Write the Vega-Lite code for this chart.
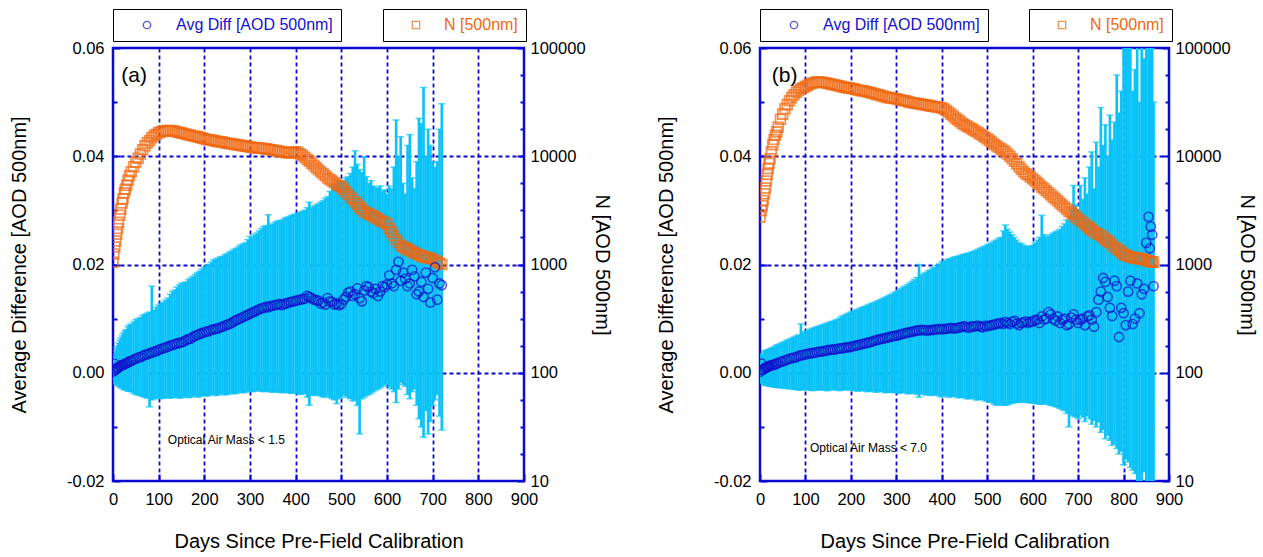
{
  "$schema": "https://vega.github.io/schema/vega-lite/v6.json",
  "background": "white",
  "padding": {"left": 8, "top": 7, "right": 5, "bottom": 5},
  "spacing": 42,
  "config": {
    "font": "Liberation Sans",
    "view": {"stroke": "#0a0ad2", "strokeWidth": 2.5},
    "axis": {
      "labelFontSize": 16.5, "titleFontSize": 20, "titleFontWeight": "normal",
      "labelColor": "black", "titleColor": "black", "domain": false,
      "tickColor": "#0a0ad2", "tickWidth": 2, "gridColor": "#0a0ad2",
      "gridDash": [4, 3], "gridWidth": 1.8, "labelOverlap": false, "labelFlush": false
    },
    "legend": {"labelFontSize": 16, "strokeColor": "black", "padding": 8, "fillColor": "white", "labelLimit": 400}
  },
  "resolve": {
    "scale": {"stroke": "independent", "shape": "independent"},
    "legend": {"stroke": "independent", "shape": "independent"}
  },
  "datasets": {
    "a": [
      {"d":0,"m":0.0002,"lo":-0.0015,"hi":0.0020,"n":1050},
      {"d":2,"m":0.0017,"lo":-0.0010,"hi":0.0030,"n":1250},
      {"d":4,"m":0.0005,"lo":-0.0018,"hi":0.0035,"n":1450},
      {"d":6,"m":0.0006,"lo":-0.0019,"hi":0.0040,"n":1650},
      {"d":8,"m":0.0008,"lo":-0.0021,"hi":0.0046,"n":1900},
      {"d":10,"m":0.0009,"lo":-0.0022,"hi":0.0050,"n":2150},
      {"d":12,"m":0.0010,"lo":-0.0024,"hi":0.0055,"n":2450},
      {"d":15,"m":0.0012,"lo":-0.0026,"hi":0.0060,"n":2850},
      {"d":17,"m":0.0013,"lo":-0.0027,"hi":0.0064,"n":3250},
      {"d":20,"m":0.0014,"lo":-0.0028,"hi":0.0068,"n":3700},
      {"d":22,"m":0.0015,"lo":-0.0030,"hi":0.0072,"n":4050},
      {"d":25,"m":0.0016,"lo":-0.0031,"hi":0.0075,"n":4600},
      {"d":27,"m":0.0017,"lo":-0.0031,"hi":0.0078,"n":4950},
      {"d":30,"m":0.0018,"lo":-0.0032,"hi":0.0080,"n":5400},
      {"d":33,"m":0.0019,"lo":-0.0034,"hi":0.0085,"n":6000},
      {"d":36,"m":0.0021,"lo":-0.0034,"hi":0.0088,"n":6600},
      {"d":40,"m":0.0022,"lo":-0.0035,"hi":0.0090,"n":7200},
      {"d":45,"m":0.0024,"lo":-0.0038,"hi":0.0094,"n":8000},
      {"d":50,"m":0.0026,"lo":-0.0040,"hi":0.0098,"n":8800},
      {"d":55,"m":0.0028,"lo":-0.0041,"hi":0.0100,"n":9600},
      {"d":60,"m":0.0029,"lo":-0.0042,"hi":0.0102,"n":10500},
      {"d":65,"m":0.0031,"lo":-0.0044,"hi":0.0106,"n":11500},
      {"d":70,"m":0.0033,"lo":-0.0045,"hi":0.0108,"n":12500},
      {"d":75,"m":0.0034,"lo":-0.0047,"hi":0.0110,"n":13300},
      {"d":80,"m":0.0036,"lo":-0.0063,"hi":0.0112,"n":14000},
      {"d":85,"m":0.0037,"lo":-0.0050,"hi":0.0160,"n":14800},
      {"d":90,"m":0.0039,"lo":-0.0048,"hi":0.0116,"n":15500},
      {"d":95,"m":0.0040,"lo":-0.0047,"hi":0.0121,"n":16000},
      {"d":100,"m":0.0042,"lo":-0.0046,"hi":0.0125,"n":16500},
      {"d":105,"m":0.0044,"lo":-0.0048,"hi":0.0128,"n":16800},
      {"d":110,"m":0.0045,"lo":-0.0047,"hi":0.0130,"n":17000},
      {"d":115,"m":0.0047,"lo":-0.0046,"hi":0.0134,"n":17200},
      {"d":120,"m":0.0048,"lo":-0.0045,"hi":0.0138,"n":17300},
      {"d":125,"m":0.0050,"lo":-0.0047,"hi":0.0145,"n":17300},
      {"d":130,"m":0.0051,"lo":-0.0046,"hi":0.0150,"n":17200},
      {"d":135,"m":0.0053,"lo":-0.0045,"hi":0.0153,"n":17000},
      {"d":140,"m":0.0054,"lo":-0.0044,"hi":0.0158,"n":16800},
      {"d":145,"m":0.0055,"lo":-0.0047,"hi":0.0162,"n":16600},
      {"d":150,"m":0.0056,"lo":-0.0046,"hi":0.0165,"n":16400},
      {"d":155,"m":0.0058,"lo":-0.0044,"hi":0.0166,"n":16200},
      {"d":160,"m":0.0060,"lo":-0.0043,"hi":0.0168,"n":16000},
      {"d":165,"m":0.0062,"lo":-0.0046,"hi":0.0172,"n":15800},
      {"d":170,"m":0.0063,"lo":-0.0045,"hi":0.0175,"n":15600},
      {"d":175,"m":0.0066,"lo":-0.0043,"hi":0.0178,"n":15400},
      {"d":180,"m":0.0068,"lo":-0.0042,"hi":0.0182,"n":15300},
      {"d":185,"m":0.0070,"lo":-0.0045,"hi":0.0185,"n":15100},
      {"d":190,"m":0.0072,"lo":-0.0044,"hi":0.0188,"n":15000},
      {"d":195,"m":0.0073,"lo":-0.0042,"hi":0.0192,"n":14700},
      {"d":200,"m":0.0075,"lo":-0.0040,"hi":0.0195,"n":14500},
      {"d":205,"m":0.0076,"lo":-0.0043,"hi":0.0198,"n":14300},
      {"d":210,"m":0.0077,"lo":-0.0042,"hi":0.0200,"n":14200},
      {"d":215,"m":0.0079,"lo":-0.0040,"hi":0.0204,"n":14100},
      {"d":220,"m":0.0080,"lo":-0.0039,"hi":0.0208,"n":14000},
      {"d":225,"m":0.0081,"lo":-0.0042,"hi":0.0210,"n":13800},
      {"d":230,"m":0.0082,"lo":-0.0041,"hi":0.0212,"n":13700},
      {"d":235,"m":0.0084,"lo":-0.0039,"hi":0.0214,"n":13600},
      {"d":240,"m":0.0085,"lo":-0.0038,"hi":0.0215,"n":13500},
      {"d":245,"m":0.0087,"lo":-0.0041,"hi":0.0218,"n":13300},
      {"d":250,"m":0.0089,"lo":-0.0040,"hi":0.0220,"n":13200},
      {"d":255,"m":0.0090,"lo":-0.0038,"hi":0.0223,"n":13100},
      {"d":260,"m":0.0092,"lo":-0.0037,"hi":0.0225,"n":13000},
      {"d":265,"m":0.0095,"lo":-0.0039,"hi":0.0228,"n":12900},
      {"d":270,"m":0.0097,"lo":-0.0038,"hi":0.0230,"n":12800},
      {"d":275,"m":0.0099,"lo":-0.0036,"hi":0.0233,"n":12700},
      {"d":280,"m":0.0101,"lo":-0.0035,"hi":0.0236,"n":12600},
      {"d":285,"m":0.0103,"lo":-0.0037,"hi":0.0238,"n":12500},
      {"d":290,"m":0.0105,"lo":-0.0036,"hi":0.0240,"n":12400},
      {"d":295,"m":0.0107,"lo":-0.0034,"hi":0.0246,"n":12300},
      {"d":300,"m":0.0109,"lo":-0.0033,"hi":0.0252,"n":12200},
      {"d":305,"m":0.0111,"lo":-0.0035,"hi":0.0250,"n":12100},
      {"d":310,"m":0.0113,"lo":-0.0034,"hi":0.0255,"n":12000},
      {"d":315,"m":0.0115,"lo":-0.0033,"hi":0.0258,"n":11950},
      {"d":320,"m":0.0117,"lo":-0.0032,"hi":0.0262,"n":11900},
      {"d":325,"m":0.0119,"lo":-0.0034,"hi":0.0266,"n":11850},
      {"d":330,"m":0.0120,"lo":-0.0035,"hi":0.0270,"n":11800},
      {"d":335,"m":0.0122,"lo":-0.0034,"hi":0.0272,"n":11700},
      {"d":340,"m":0.0121,"lo":-0.0033,"hi":0.0292,"n":11600},
      {"d":345,"m":0.0123,"lo":-0.0035,"hi":0.0273,"n":11500},
      {"d":350,"m":0.0124,"lo":-0.0036,"hi":0.0275,"n":11400},
      {"d":355,"m":0.0125,"lo":-0.0035,"hi":0.0278,"n":11300},
      {"d":360,"m":0.0126,"lo":-0.0034,"hi":0.0280,"n":11200},
      {"d":365,"m":0.0127,"lo":-0.0036,"hi":0.0281,"n":11100},
      {"d":370,"m":0.0125,"lo":-0.0037,"hi":0.0282,"n":11000},
      {"d":375,"m":0.0127,"lo":-0.0036,"hi":0.0285,"n":10900},
      {"d":380,"m":0.0128,"lo":-0.0035,"hi":0.0287,"n":10800},
      {"d":385,"m":0.0130,"lo":-0.0037,"hi":0.0288,"n":10750},
      {"d":390,"m":0.0131,"lo":-0.0038,"hi":0.0290,"n":10700},
      {"d":395,"m":0.0132,"lo":-0.0037,"hi":0.0292,"n":10900},
      {"d":400,"m":0.0133,"lo":-0.0036,"hi":0.0293,"n":11000},
      {"d":405,"m":0.0134,"lo":-0.0039,"hi":0.0295,"n":10800},
      {"d":410,"m":0.0135,"lo":-0.0040,"hi":0.0296,"n":10500},
      {"d":415,"m":0.0136,"lo":-0.0039,"hi":0.0298,"n":10200},
      {"d":420,"m":0.0137,"lo":-0.0038,"hi":0.0300,"n":9800},
      {"d":425,"m":0.0142,"lo":-0.0045,"hi":0.0305,"n":9400},
      {"d":430,"m":0.0140,"lo":-0.0060,"hi":0.0315,"n":9000},
      {"d":435,"m":0.0138,"lo":-0.0041,"hi":0.0305,"n":8600},
      {"d":440,"m":0.0135,"lo":-0.0042,"hi":0.0308,"n":8200},
      {"d":445,"m":0.0134,"lo":-0.0041,"hi":0.0310,"n":7850},
      {"d":450,"m":0.0133,"lo":-0.0040,"hi":0.0312,"n":7500},
      {"d":455,"m":0.0128,"lo":-0.0043,"hi":0.0315,"n":7200},
      {"d":460,"m":0.0130,"lo":-0.0045,"hi":0.0318,"n":6900},
      {"d":465,"m":0.0126,"lo":-0.0044,"hi":0.0322,"n":6600},
      {"d":470,"m":0.0138,"lo":-0.0042,"hi":0.0325,"n":6300},
      {"d":475,"m":0.0132,"lo":-0.0046,"hi":0.0335,"n":6100},
      {"d":480,"m":0.0131,"lo":-0.0048,"hi":0.0345,"n":5900},
      {"d":485,"m":0.0126,"lo":-0.0050,"hi":0.0348,"n":5700},
      {"d":490,"m":0.0128,"lo":-0.0057,"hi":0.0350,"n":5500},
      {"d":495,"m":0.0125,"lo":-0.0048,"hi":0.0352,"n":5350},
      {"d":500,"m":0.0127,"lo":-0.0045,"hi":0.0355,"n":5200},
      {"d":505,"m":0.0135,"lo":-0.0040,"hi":0.0352,"n":4950},
      {"d":510,"m":0.0140,"lo":-0.0043,"hi":0.0360,"n":4700},
      {"d":515,"m":0.0148,"lo":-0.0046,"hi":0.0362,"n":4450},
      {"d":520,"m":0.0150,"lo":-0.0048,"hi":0.0368,"n":4200},
      {"d":525,"m":0.0142,"lo":-0.0052,"hi":0.0380,"n":4000},
      {"d":530,"m":0.0145,"lo":-0.0050,"hi":0.0410,"n":3800},
      {"d":535,"m":0.0156,"lo":-0.0060,"hi":0.0385,"n":3600},
      {"d":540,"m":0.0138,"lo":-0.0113,"hi":0.0375,"n":3400},
      {"d":545,"m":0.0132,"lo":-0.0048,"hi":0.0370,"n":3250},
      {"d":550,"m":0.0152,"lo":-0.0045,"hi":0.0399,"n":3100},
      {"d":555,"m":0.0160,"lo":-0.0042,"hi":0.0362,"n":3000},
      {"d":560,"m":0.0158,"lo":-0.0040,"hi":0.0350,"n":2950},
      {"d":565,"m":0.0150,"lo":-0.0038,"hi":0.0355,"n":2850},
      {"d":570,"m":0.0147,"lo":-0.0035,"hi":0.0345,"n":2800},
      {"d":575,"m":0.0155,"lo":-0.0032,"hi":0.0342,"n":2700},
      {"d":580,"m":0.0142,"lo":-0.0030,"hi":0.0340,"n":2650},
      {"d":585,"m":0.0150,"lo":-0.0028,"hi":0.0345,"n":2550},
      {"d":590,"m":0.0160,"lo":-0.0025,"hi":0.0335,"n":2500},
      {"d":595,"m":0.0158,"lo":-0.0022,"hi":0.0338,"n":2450},
      {"d":600,"m":0.0163,"lo":-0.0020,"hi":0.0330,"n":2350},
      {"d":605,"m":0.0180,"lo":-0.0026,"hi":0.0345,"n":2150},
      {"d":610,"m":0.0165,"lo":-0.0030,"hi":0.0340,"n":2000},
      {"d":615,"m":0.0160,"lo":-0.0035,"hi":0.0380,"n":1850},
      {"d":620,"m":0.0190,"lo":-0.0055,"hi":0.0467,"n":1700},
      {"d":625,"m":0.0205,"lo":-0.0030,"hi":0.0400,"n":1600},
      {"d":630,"m":0.0170,"lo":-0.0018,"hi":0.0436,"n":1500},
      {"d":635,"m":0.0185,"lo":-0.0022,"hi":0.0350,"n":1450},
      {"d":640,"m":0.0174,"lo":-0.0025,"hi":0.0330,"n":1420},
      {"d":645,"m":0.0160,"lo":-0.0040,"hi":0.0420,"n":1380},
      {"d":650,"m":0.0165,"lo":-0.0048,"hi":0.0440,"n":1350},
      {"d":655,"m":0.0190,"lo":-0.0035,"hi":0.0360,"n":1320},
      {"d":660,"m":0.0178,"lo":-0.0030,"hi":0.0340,"n":1280},
      {"d":665,"m":0.0145,"lo":-0.0060,"hi":0.0390,"n":1250},
      {"d":670,"m":0.0150,"lo":-0.0085,"hi":0.0470,"n":1230},
      {"d":675,"m":0.0168,"lo":-0.0100,"hi":0.0460,"n":1200},
      {"d":680,"m":0.0140,"lo":-0.0119,"hi":0.0527,"n":1180},
      {"d":685,"m":0.0185,"lo":-0.0070,"hi":0.0400,"n":1170},
      {"d":690,"m":0.0155,"lo":-0.0113,"hi":0.0450,"n":1150},
      {"d":695,"m":0.0130,"lo":-0.0090,"hi":0.0420,"n":1140},
      {"d":700,"m":0.0175,"lo":-0.0060,"hi":0.0390,"n":1120},
      {"d":705,"m":0.0195,"lo":-0.0050,"hi":0.0380,"n":1090},
      {"d":710,"m":0.0135,"lo":-0.0040,"hi":0.0390,"n":1060},
      {"d":715,"m":0.0165,"lo":-0.0080,"hi":0.0450,"n":1030},
      {"d":720,"m":0.0162,"lo":-0.0106,"hi":0.0497,"n":1000}
    ],
    "b": [
      {"d":0,"m":0.0002,"lo":-0.0017,"hi":0.0020,"n":2750},
      {"d":3,"m":0.0017,"lo":-0.0010,"hi":0.0035,"n":3150},
      {"d":5,"m":0.0005,"lo":-0.0019,"hi":0.0028,"n":3500},
      {"d":7,"m":0.0006,"lo":-0.0020,"hi":0.0032,"n":3900},
      {"d":10,"m":0.0008,"lo":-0.0022,"hi":0.0038,"n":4500},
      {"d":12,"m":0.0009,"lo":-0.0022,"hi":0.0040,"n":5100},
      {"d":14,"m":0.0010,"lo":-0.0023,"hi":0.0041,"n":5900},
      {"d":16,"m":0.0011,"lo":-0.0023,"hi":0.0041,"n":6800},
      {"d":18,"m":0.0011,"lo":-0.0024,"hi":0.0042,"n":7700},
      {"d":20,"m":0.0012,"lo":-0.0024,"hi":0.0042,"n":8600},
      {"d":22,"m":0.0013,"lo":-0.0025,"hi":0.0044,"n":9500},
      {"d":25,"m":0.0014,"lo":-0.0025,"hi":0.0045,"n":11000},
      {"d":28,"m":0.0014,"lo":-0.0026,"hi":0.0046,"n":12800},
      {"d":31,"m":0.0015,"lo":-0.0026,"hi":0.0047,"n":14300},
      {"d":34,"m":0.0016,"lo":-0.0027,"hi":0.0049,"n":15600},
      {"d":37,"m":0.0017,"lo":-0.0027,"hi":0.0051,"n":16800},
      {"d":40,"m":0.0018,"lo":-0.0027,"hi":0.0052,"n":18500},
      {"d":45,"m":0.0020,"lo":-0.0028,"hi":0.0054,"n":22000},
      {"d":50,"m":0.0021,"lo":-0.0028,"hi":0.0056,"n":24500},
      {"d":55,"m":0.0023,"lo":-0.0029,"hi":0.0058,"n":27500},
      {"d":60,"m":0.0024,"lo":-0.0028,"hi":0.0060,"n":30000},
      {"d":65,"m":0.0026,"lo":-0.0030,"hi":0.0062,"n":32500},
      {"d":70,"m":0.0027,"lo":-0.0029,"hi":0.0064,"n":35000},
      {"d":75,"m":0.0028,"lo":-0.0031,"hi":0.0066,"n":37000},
      {"d":80,"m":0.0029,"lo":-0.0030,"hi":0.0068,"n":39000},
      {"d":85,"m":0.0031,"lo":-0.0032,"hi":0.0070,"n":40500},
      {"d":90,"m":0.0032,"lo":-0.0032,"hi":0.0090,"n":42000},
      {"d":95,"m":0.0033,"lo":-0.0031,"hi":0.0074,"n":43000},
      {"d":100,"m":0.0034,"lo":-0.0030,"hi":0.0076,"n":44000},
      {"d":105,"m":0.0035,"lo":-0.0032,"hi":0.0078,"n":45300},
      {"d":110,"m":0.0036,"lo":-0.0031,"hi":0.0080,"n":46500},
      {"d":115,"m":0.0036,"lo":-0.0033,"hi":0.0082,"n":47300},
      {"d":120,"m":0.0037,"lo":-0.0030,"hi":0.0083,"n":48000},
      {"d":125,"m":0.0038,"lo":-0.0032,"hi":0.0085,"n":48500},
      {"d":130,"m":0.0039,"lo":-0.0032,"hi":0.0086,"n":48500},
      {"d":135,"m":0.0039,"lo":-0.0031,"hi":0.0088,"n":48200},
      {"d":140,"m":0.0040,"lo":-0.0031,"hi":0.0089,"n":48000},
      {"d":145,"m":0.0041,"lo":-0.0033,"hi":0.0091,"n":47500},
      {"d":150,"m":0.0042,"lo":-0.0033,"hi":0.0092,"n":47000},
      {"d":155,"m":0.0042,"lo":-0.0031,"hi":0.0094,"n":46500},
      {"d":160,"m":0.0043,"lo":-0.0030,"hi":0.0095,"n":46000},
      {"d":165,"m":0.0043,"lo":-0.0032,"hi":0.0097,"n":45500},
      {"d":170,"m":0.0044,"lo":-0.0031,"hi":0.0098,"n":45000},
      {"d":175,"m":0.0045,"lo":-0.0033,"hi":0.0101,"n":44500},
      {"d":180,"m":0.0045,"lo":-0.0032,"hi":0.0104,"n":44000},
      {"d":185,"m":0.0046,"lo":-0.0031,"hi":0.0106,"n":43500},
      {"d":190,"m":0.0047,"lo":-0.0030,"hi":0.0108,"n":43000},
      {"d":195,"m":0.0047,"lo":-0.0032,"hi":0.0110,"n":42800},
      {"d":200,"m":0.0048,"lo":-0.0031,"hi":0.0112,"n":42500},
      {"d":205,"m":0.0049,"lo":-0.0033,"hi":0.0114,"n":42000},
      {"d":210,"m":0.0050,"lo":-0.0032,"hi":0.0115,"n":41500},
      {"d":215,"m":0.0051,"lo":-0.0034,"hi":0.0117,"n":41000},
      {"d":220,"m":0.0052,"lo":-0.0033,"hi":0.0119,"n":40500},
      {"d":225,"m":0.0053,"lo":-0.0033,"hi":0.0121,"n":40200},
      {"d":230,"m":0.0054,"lo":-0.0032,"hi":0.0122,"n":40000},
      {"d":235,"m":0.0055,"lo":-0.0035,"hi":0.0124,"n":39500},
      {"d":240,"m":0.0056,"lo":-0.0034,"hi":0.0126,"n":39000},
      {"d":245,"m":0.0057,"lo":-0.0034,"hi":0.0128,"n":38500},
      {"d":250,"m":0.0059,"lo":-0.0033,"hi":0.0129,"n":38000},
      {"d":255,"m":0.0060,"lo":-0.0036,"hi":0.0131,"n":37500},
      {"d":260,"m":0.0061,"lo":-0.0035,"hi":0.0133,"n":37000},
      {"d":265,"m":0.0062,"lo":-0.0034,"hi":0.0135,"n":36500},
      {"d":270,"m":0.0063,"lo":-0.0034,"hi":0.0137,"n":36000},
      {"d":275,"m":0.0064,"lo":-0.0037,"hi":0.0139,"n":35500},
      {"d":280,"m":0.0065,"lo":-0.0036,"hi":0.0141,"n":35000},
      {"d":285,"m":0.0066,"lo":-0.0036,"hi":0.0143,"n":34700},
      {"d":290,"m":0.0067,"lo":-0.0035,"hi":0.0145,"n":34500},
      {"d":295,"m":0.0068,"lo":-0.0037,"hi":0.0148,"n":34200},
      {"d":300,"m":0.0068,"lo":-0.0036,"hi":0.0150,"n":34000},
      {"d":305,"m":0.0070,"lo":-0.0038,"hi":0.0152,"n":33500},
      {"d":310,"m":0.0071,"lo":-0.0037,"hi":0.0155,"n":33000},
      {"d":315,"m":0.0072,"lo":-0.0036,"hi":0.0158,"n":32700},
      {"d":320,"m":0.0073,"lo":-0.0036,"hi":0.0160,"n":32500},
      {"d":325,"m":0.0074,"lo":-0.0039,"hi":0.0163,"n":32000},
      {"d":330,"m":0.0075,"lo":-0.0038,"hi":0.0166,"n":31500},
      {"d":335,"m":0.0076,"lo":-0.0037,"hi":0.0169,"n":31200},
      {"d":340,"m":0.0077,"lo":-0.0037,"hi":0.0172,"n":31000},
      {"d":345,"m":0.0078,"lo":-0.0040,"hi":0.0176,"n":30700},
      {"d":350,"m":0.0078,"lo":-0.0045,"hi":0.0200,"n":30500},
      {"d":355,"m":0.0079,"lo":-0.0039,"hi":0.0180,"n":30200},
      {"d":360,"m":0.0079,"lo":-0.0039,"hi":0.0183,"n":30000},
      {"d":365,"m":0.0078,"lo":-0.0041,"hi":0.0185,"n":29700},
      {"d":370,"m":0.0078,"lo":-0.0040,"hi":0.0188,"n":29500},
      {"d":375,"m":0.0079,"lo":-0.0042,"hi":0.0190,"n":29200},
      {"d":380,"m":0.0079,"lo":-0.0041,"hi":0.0193,"n":29000},
      {"d":385,"m":0.0080,"lo":-0.0041,"hi":0.0195,"n":28700},
      {"d":390,"m":0.0080,"lo":-0.0040,"hi":0.0198,"n":28500},
      {"d":395,"m":0.0081,"lo":-0.0043,"hi":0.0201,"n":28200},
      {"d":400,"m":0.0080,"lo":-0.0045,"hi":0.0205,"n":28000},
      {"d":405,"m":0.0081,"lo":-0.0042,"hi":0.0206,"n":27300},
      {"d":410,"m":0.0081,"lo":-0.0042,"hi":0.0208,"n":26500},
      {"d":415,"m":0.0082,"lo":-0.0045,"hi":0.0210,"n":25500},
      {"d":420,"m":0.0083,"lo":-0.0044,"hi":0.0211,"n":24500},
      {"d":425,"m":0.0082,"lo":-0.0043,"hi":0.0213,"n":23500},
      {"d":430,"m":0.0082,"lo":-0.0043,"hi":0.0214,"n":22500},
      {"d":435,"m":0.0083,"lo":-0.0046,"hi":0.0215,"n":21700},
      {"d":440,"m":0.0084,"lo":-0.0046,"hi":0.0216,"n":21000},
      {"d":445,"m":0.0085,"lo":-0.0045,"hi":0.0218,"n":20200},
      {"d":450,"m":0.0086,"lo":-0.0045,"hi":0.0219,"n":19500},
      {"d":455,"m":0.0084,"lo":-0.0048,"hi":0.0220,"n":19000},
      {"d":460,"m":0.0083,"lo":-0.0048,"hi":0.0221,"n":18500},
      {"d":465,"m":0.0086,"lo":-0.0047,"hi":0.0223,"n":18000},
      {"d":470,"m":0.0085,"lo":-0.0047,"hi":0.0224,"n":17500},
      {"d":475,"m":0.0086,"lo":-0.0050,"hi":0.0226,"n":17000},
      {"d":480,"m":0.0087,"lo":-0.0050,"hi":0.0228,"n":16500},
      {"d":485,"m":0.0085,"lo":-0.0049,"hi":0.0230,"n":16000},
      {"d":490,"m":0.0084,"lo":-0.0049,"hi":0.0232,"n":15500},
      {"d":495,"m":0.0087,"lo":-0.0052,"hi":0.0234,"n":15000},
      {"d":500,"m":0.0086,"lo":-0.0052,"hi":0.0236,"n":14500},
      {"d":505,"m":0.0087,"lo":-0.0054,"hi":0.0238,"n":14000},
      {"d":510,"m":0.0088,"lo":-0.0055,"hi":0.0240,"n":13500},
      {"d":515,"m":0.0089,"lo":-0.0058,"hi":0.0243,"n":13000},
      {"d":520,"m":0.0090,"lo":-0.0060,"hi":0.0245,"n":12500},
      {"d":525,"m":0.0091,"lo":-0.0059,"hi":0.0248,"n":12100},
      {"d":530,"m":0.0092,"lo":-0.0058,"hi":0.0250,"n":11700},
      {"d":535,"m":0.0090,"lo":-0.0060,"hi":0.0262,"n":11300},
      {"d":540,"m":0.0094,"lo":-0.0060,"hi":0.0273,"n":11000},
      {"d":545,"m":0.0092,"lo":-0.0059,"hi":0.0265,"n":10500},
      {"d":550,"m":0.0090,"lo":-0.0057,"hi":0.0260,"n":10000},
      {"d":555,"m":0.0094,"lo":-0.0056,"hi":0.0255,"n":9500},
      {"d":560,"m":0.0096,"lo":-0.0055,"hi":0.0250,"n":9000},
      {"d":565,"m":0.0091,"lo":-0.0055,"hi":0.0245,"n":8500},
      {"d":570,"m":0.0088,"lo":-0.0054,"hi":0.0240,"n":8000},
      {"d":575,"m":0.0092,"lo":-0.0054,"hi":0.0238,"n":7600},
      {"d":580,"m":0.0093,"lo":-0.0053,"hi":0.0235,"n":7200},
      {"d":585,"m":0.0095,"lo":-0.0055,"hi":0.0233,"n":6900},
      {"d":590,"m":0.0092,"lo":-0.0054,"hi":0.0232,"n":6700},
      {"d":595,"m":0.0094,"lo":-0.0056,"hi":0.0234,"n":6450},
      {"d":600,"m":0.0095,"lo":-0.0055,"hi":0.0235,"n":6200},
      {"d":605,"m":0.0097,"lo":-0.0057,"hi":0.0240,"n":5950},
      {"d":610,"m":0.0098,"lo":-0.0056,"hi":0.0245,"n":5700},
      {"d":615,"m":0.0092,"lo":-0.0058,"hi":0.0250,"n":5450},
      {"d":620,"m":0.0104,"lo":-0.0058,"hi":0.0291,"n":5200},
      {"d":625,"m":0.0098,"lo":-0.0057,"hi":0.0255,"n":5000},
      {"d":630,"m":0.0100,"lo":-0.0057,"hi":0.0250,"n":4800},
      {"d":635,"m":0.0112,"lo":-0.0059,"hi":0.0252,"n":4600},
      {"d":640,"m":0.0108,"lo":-0.0060,"hi":0.0255,"n":4400},
      {"d":645,"m":0.0100,"lo":-0.0061,"hi":0.0258,"n":4200},
      {"d":650,"m":0.0096,"lo":-0.0062,"hi":0.0260,"n":4050},
      {"d":655,"m":0.0104,"lo":-0.0064,"hi":0.0262,"n":3880},
      {"d":660,"m":0.0092,"lo":-0.0066,"hi":0.0265,"n":3700},
      {"d":665,"m":0.0098,"lo":-0.0068,"hi":0.0270,"n":3550},
      {"d":670,"m":0.0100,"lo":-0.0070,"hi":0.0275,"n":3400},
      {"d":675,"m":0.0088,"lo":-0.0075,"hi":0.0282,"n":3250},
      {"d":680,"m":0.0090,"lo":-0.0100,"hi":0.0290,"n":3100},
      {"d":685,"m":0.0102,"lo":-0.0078,"hi":0.0300,"n":3000},
      {"d":690,"m":0.0108,"lo":-0.0080,"hi":0.0346,"n":2900},
      {"d":695,"m":0.0098,"lo":-0.0082,"hi":0.0310,"n":2780},
      {"d":700,"m":0.0092,"lo":-0.0085,"hi":0.0300,"n":2650},
      {"d":705,"m":0.0098,"lo":-0.0078,"hi":0.0346,"n":2550},
      {"d":710,"m":0.0100,"lo":-0.0082,"hi":0.0320,"n":2450},
      {"d":715,"m":0.0088,"lo":-0.0090,"hi":0.0360,"n":2350},
      {"d":720,"m":0.0104,"lo":-0.0080,"hi":0.0330,"n":2250},
      {"d":725,"m":0.0106,"lo":-0.0085,"hi":0.0380,"n":2180},
      {"d":730,"m":0.0098,"lo":-0.0095,"hi":0.0408,"n":2100},
      {"d":735,"m":0.0085,"lo":-0.0088,"hi":0.0340,"n":2020},
      {"d":740,"m":0.0112,"lo":-0.0100,"hi":0.0426,"n":1950},
      {"d":745,"m":0.0135,"lo":-0.0091,"hi":0.0380,"n":1900},
      {"d":750,"m":0.0150,"lo":-0.0110,"hi":0.0490,"n":1850},
      {"d":755,"m":0.0175,"lo":-0.0105,"hi":0.0420,"n":1780},
      {"d":760,"m":0.0168,"lo":-0.0122,"hi":0.0458,"n":1700},
      {"d":765,"m":0.0140,"lo":-0.0115,"hi":0.0400,"n":1650},
      {"d":770,"m":0.0120,"lo":-0.0125,"hi":0.0476,"n":1600},
      {"d":775,"m":0.0105,"lo":-0.0134,"hi":0.0430,"n":1520},
      {"d":780,"m":0.0170,"lo":-0.0131,"hi":0.0463,"n":1450},
      {"d":785,"m":0.0160,"lo":-0.0140,"hi":0.0550,"n":1400},
      {"d":790,"m":0.0066,"lo":-0.0150,"hi":0.0480,"n":1350},
      {"d":795,"m":0.0120,"lo":-0.0145,"hi":0.0520,"n":1300},
      {"d":800,"m":0.0110,"lo":-0.0170,"hi":0.0750,"n":1250},
      {"d":805,"m":0.0088,"lo":-0.0160,"hi":0.0700,"n":1220},
      {"d":810,"m":0.0150,"lo":-0.0165,"hi":0.0750,"n":1200},
      {"d":815,"m":0.0170,"lo":-0.0175,"hi":0.0600,"n":1180},
      {"d":820,"m":0.0090,"lo":-0.0180,"hi":0.0520,"n":1150},
      {"d":825,"m":0.0100,"lo":-0.0186,"hi":0.0560,"n":1160},
      {"d":830,"m":0.0165,"lo":-0.0210,"hi":0.0700,"n":1150},
      {"d":835,"m":0.0110,"lo":-0.0200,"hi":0.0500,"n":1130},
      {"d":840,"m":0.0145,"lo":-0.0250,"hi":0.0750,"n":1120},
      {"d":845,"m":0.0155,"lo":-0.0183,"hi":0.0580,"n":1110},
      {"d":850,"m":0.0240,"lo":-0.0250,"hi":0.0750,"n":1100},
      {"d":855,"m":0.0288,"lo":-0.0220,"hi":0.0750,"n":1080},
      {"d":858,"m":0.0230,"lo":-0.0250,"hi":0.0650,"n":1070},
      {"d":860,"m":0.0270,"lo":-0.0250,"hi":0.0750,"n":1060},
      {"d":863,"m":0.0255,"lo":-0.0200,"hi":0.0600,"n":1055},
      {"d":866,"m":0.0160,"lo":-0.0250,"hi":0.0500,"n":1050}
    ]
  },
  "hconcat": [
    {
      "width": 411, "height": 433,
      "resolve": {"scale": {"y": "independent"}, "axis": {"y": "independent"}},
      "layer": [
        {
          "data": {"name": "a"},
          "layer": [
            {
              "mark": {"type": "rule", "color": "#0cc2f6", "strokeWidth": 2.6, "clip": true},
              "encoding": {
                "x": {"field": "d", "type": "quantitative", "title": "Days Since Pre-Field Calibration",
                  "scale": {"domain": [0, 900], "nice": false, "zero": false},
                  "axis": {"values": [0,50,100,150,200,250,300,350,400,450,500,550,600,650,700,750,800,850,900],
                    "labelExpr": "datum.value % 100 == 0 ? datum.label : ''", "format": "d",
                    "grid": true, "gridOpacity": {"condition": {"test": "datum.value % 100 == 0 && datum.value > 0 && datum.value < 900", "value": 1}, "value": 0},
                    "tickSize": {"condition": {"test": "datum.value % 100 == 0", "value": -7}, "value": -4},
                    "labelPadding": 17, "titlePadding": 24}},
                "y": {"field": "lo", "type": "quantitative", "title": "Average Difference [AOD 500nm]",
                  "scale": {"domain": [-0.02, 0.06], "nice": false, "zero": false},
                  "axis": {"orient": "left", "values": [-0.02,-0.015,-0.01,-0.005,0,0.005,0.01,0.015,0.02,0.025,0.03,0.035,0.04,0.045,0.05,0.055,0.06],
                    "labelExpr": "round(datum.value*1000) % 20 == 0 ? replace(format(datum.value, '.2f'), '\u2212', '-') : ''",
                    "grid": true, "gridOpacity": {"condition": {"test": "round(datum.value*1000) % 20 == 0 && datum.value > -0.019 && datum.value < 0.059", "value": 1}, "value": 0},
                    "tickSize": {"condition": {"test": "round(datum.value*1000) % 20 == 0", "value": -7}, "value": -4},
                    "labelPadding": 16, "titlePadding": 37}},
                "y2": {"field": "hi"}
              }
            },
            {
              "mark": {"type": "tick", "orient": "horizontal", "color": "#0cc2f6", "size": 7, "thickness": 1.5, "clip": true},
              "encoding": {
                "x": {"field": "d", "type": "quantitative", "title": "Days Since Pre-Field Calibration"},
                "y": {"field": "hi", "type": "quantitative", "title": "Average Difference [AOD 500nm]"}
              }
            },
            {
              "mark": {"type": "tick", "orient": "horizontal", "color": "#0cc2f6", "size": 7, "thickness": 1.5, "clip": true},
              "encoding": {
                "x": {"field": "d", "type": "quantitative", "title": "Days Since Pre-Field Calibration"},
                "y": {"field": "lo", "type": "quantitative", "title": "Average Difference [AOD 500nm]"}
              }
            }
          ]
        },
        {
          "data": {"name": "a"},
          "mark": {"type": "point", "shape": "square", "filled": false, "color": "#f0670f", "size": 95, "strokeWidth": 1.8, "clip": true},
          "encoding": {
            "x": {"field": "d", "type": "quantitative", "title": "Days Since Pre-Field Calibration"},
            "y": {"field": "n", "type": "quantitative", "title": "N [AOD 500nm]",
              "scale": {"type": "log", "domain": [10, 100000], "nice": false},
              "axis": {"orient": "right", "values": [10,17.78,31.62,56.23,100,177.8,316.2,562.3,1000,1778,3162,5623,10000,17783,31623,56234,100000],
                "labelExpr": "indexof([10,100,1000,10000,100000], datum.value) >= 0 ? format(datum.value, 'd') : ''",
                "grid": false,
                "tickSize": {"condition": {"test": "indexof([10,100,1000,10000,100000], datum.value) >= 0", "value": -7}, "value": -4},
                "labelPadding": 13, "titlePadding": 6}},
            "shape": {"datum": "N [500nm]", "scale": {"range": ["square"]},
              "legend": {"orient": "none", "legendX": 270, "legendY": -39, "title": null, "symbolType": "square", "symbolSize": 55,
                "symbolStrokeColor": "#f0670f", "symbolFillColor": "transparent", "symbolStrokeWidth": 1.3,
                "symbolOffset": 17, "labelOffset": 20, "labelColor": "#f0670f", "labelFontSize": 16, "labelLimit": 400}}
          }
        },
        {
          "layer": [
            {
              "data": {"name": "a"},
              "mark": {"type": "point", "filled": false, "size": 85, "strokeWidth": 1.6, "clip": true},
              "encoding": {
                "x": {"field": "d", "type": "quantitative", "title": "Days Since Pre-Field Calibration"},
                "y": {"field": "m", "type": "quantitative", "axis": null, "scale": {"domain": [-0.02, 0.06], "nice": false, "zero": false}},
                "stroke": {"datum": "Avg Diff [AOD 500nm]", "scale": {"range": ["#1212cc"]},
                  "legend": {"orient": "none", "legendX": 0, "legendY": -39, "title": null, "symbolType": "circle", "symbolSize": 55,
                    "symbolStrokeColor": "#1212cc", "symbolFillColor": "transparent", "symbolStrokeWidth": 1.3,
                    "symbolOffset": 18, "labelOffset": 21, "labelColor": "#1212cc", "labelFontSize": 16, "labelLimit": 400}}
              }
            },
            {
              "data": {"values": [{"d": 18, "v": 0.0548, "t": "(a)"}]},
              "mark": {"type": "text", "align": "left", "baseline": "middle", "fontSize": 21, "color": "black"},
              "encoding": {
                "x": {"field": "d", "type": "quantitative", "title": "Days Since Pre-Field Calibration"},
                "y": {"field": "v", "type": "quantitative", "axis": null},
                "text": {"field": "t"}
              }
            },
            {
              "data": {"values": [{"d": 120, "v": -0.0124, "t": "Optical Air Mass < 1.5"}]},
              "mark": {"type": "text", "align": "left", "baseline": "middle", "fontSize": 12, "color": "black"},
              "encoding": {
                "x": {"field": "d", "type": "quantitative", "title": "Days Since Pre-Field Calibration"},
                "y": {"field": "v", "type": "quantitative", "axis": null},
                "text": {"field": "t"}
              }
            }
          ]
        }
      ]
    },
    {
      "width": 409, "height": 433,
      "resolve": {"scale": {"y": "independent"}, "axis": {"y": "independent"}},
      "layer": [
        {
          "data": {"name": "b"},
          "layer": [
            {
              "mark": {"type": "rule", "color": "#0cc2f6", "strokeWidth": 2.6, "clip": true},
              "encoding": {
                "x": {"field": "d", "type": "quantitative", "title": "Days Since Pre-Field Calibration",
                  "scale": {"domain": [0, 900], "nice": false, "zero": false},
                  "axis": {"values": [0,50,100,150,200,250,300,350,400,450,500,550,600,650,700,750,800,850,900],
                    "labelExpr": "datum.value % 100 == 0 ? datum.label : ''", "format": "d",
                    "grid": true, "gridOpacity": {"condition": {"test": "datum.value % 100 == 0 && datum.value > 0 && datum.value < 900", "value": 1}, "value": 0},
                    "tickSize": {"condition": {"test": "datum.value % 100 == 0", "value": -7}, "value": -4},
                    "labelPadding": 17, "titlePadding": 24}},
                "y": {"field": "lo", "type": "quantitative", "title": "Average Difference [AOD 500nm]",
                  "scale": {"domain": [-0.02, 0.06], "nice": false, "zero": false},
                  "axis": {"orient": "left", "values": [-0.02,-0.015,-0.01,-0.005,0,0.005,0.01,0.015,0.02,0.025,0.03,0.035,0.04,0.045,0.05,0.055,0.06],
                    "labelExpr": "round(datum.value*1000) % 20 == 0 ? replace(format(datum.value, '.2f'), '\u2212', '-') : ''",
                    "grid": true, "gridOpacity": {"condition": {"test": "round(datum.value*1000) % 20 == 0 && datum.value > -0.019 && datum.value < 0.059", "value": 1}, "value": 0},
                    "tickSize": {"condition": {"test": "round(datum.value*1000) % 20 == 0", "value": -7}, "value": -4},
                    "labelPadding": 16, "titlePadding": 37}},
                "y2": {"field": "hi"}
              }
            },
            {
              "mark": {"type": "tick", "orient": "horizontal", "color": "#0cc2f6", "size": 7, "thickness": 1.5, "clip": true},
              "encoding": {
                "x": {"field": "d", "type": "quantitative", "title": "Days Since Pre-Field Calibration"},
                "y": {"field": "hi", "type": "quantitative", "title": "Average Difference [AOD 500nm]"}
              }
            },
            {
              "mark": {"type": "tick", "orient": "horizontal", "color": "#0cc2f6", "size": 7, "thickness": 1.5, "clip": true},
              "encoding": {
                "x": {"field": "d", "type": "quantitative", "title": "Days Since Pre-Field Calibration"},
                "y": {"field": "lo", "type": "quantitative", "title": "Average Difference [AOD 500nm]"}
              }
            }
          ]
        },
        {
          "data": {"name": "b"},
          "mark": {"type": "point", "shape": "square", "filled": false, "color": "#f0670f", "size": 95, "strokeWidth": 1.8, "clip": true},
          "encoding": {
            "x": {"field": "d", "type": "quantitative", "title": "Days Since Pre-Field Calibration"},
            "y": {"field": "n", "type": "quantitative", "title": "N [AOD 500nm]",
              "scale": {"type": "log", "domain": [10, 100000], "nice": false},
              "axis": {"orient": "right", "values": [10,17.78,31.62,56.23,100,177.8,316.2,562.3,1000,1778,3162,5623,10000,17783,31623,56234,100000],
                "labelExpr": "indexof([10,100,1000,10000,100000], datum.value) >= 0 ? format(datum.value, 'd') : ''",
                "grid": false,
                "tickSize": {"condition": {"test": "indexof([10,100,1000,10000,100000], datum.value) >= 0", "value": -7}, "value": -4},
                "labelPadding": 13, "titlePadding": 6}},
            "shape": {"datum": "N [500nm]", "scale": {"range": ["square"]},
              "legend": {"orient": "none", "legendX": 269, "legendY": -39, "title": null, "symbolType": "square", "symbolSize": 55,
                "symbolStrokeColor": "#f0670f", "symbolFillColor": "transparent", "symbolStrokeWidth": 1.3,
                "symbolOffset": 17, "labelOffset": 20, "labelColor": "#f0670f", "labelFontSize": 16, "labelLimit": 400}}
          }
        },
        {
          "layer": [
            {
              "data": {"name": "b"},
              "mark": {"type": "point", "filled": false, "size": 85, "strokeWidth": 1.6, "clip": true},
              "encoding": {
                "x": {"field": "d", "type": "quantitative", "title": "Days Since Pre-Field Calibration"},
                "y": {"field": "m", "type": "quantitative", "axis": null, "scale": {"domain": [-0.02, 0.06], "nice": false, "zero": false}},
                "stroke": {"datum": "Avg Diff [AOD 500nm]", "scale": {"range": ["#1212cc"]},
                  "legend": {"orient": "none", "legendX": 0, "legendY": -39, "title": null, "symbolType": "circle", "symbolSize": 55,
                    "symbolStrokeColor": "#1212cc", "symbolFillColor": "transparent", "symbolStrokeWidth": 1.3,
                    "symbolOffset": 18, "labelOffset": 21, "labelColor": "#1212cc", "labelFontSize": 16, "labelLimit": 400}}
              }
            },
            {
              "data": {"values": [{"d": 26, "v": 0.0548, "t": "(b)"}]},
              "mark": {"type": "text", "align": "left", "baseline": "middle", "fontSize": 21, "color": "black"},
              "encoding": {
                "x": {"field": "d", "type": "quantitative", "title": "Days Since Pre-Field Calibration"},
                "y": {"field": "v", "type": "quantitative", "axis": null},
                "text": {"field": "t"}
              }
            },
            {
              "data": {"values": [{"d": 110, "v": -0.0139, "t": "Optical Air Mass < 7.0"}]},
              "mark": {"type": "text", "align": "left", "baseline": "middle", "fontSize": 12, "color": "black"},
              "encoding": {
                "x": {"field": "d", "type": "quantitative", "title": "Days Since Pre-Field Calibration"},
                "y": {"field": "v", "type": "quantitative", "axis": null},
                "text": {"field": "t"}
              }
            }
          ]
        }
      ]
    }
  ]
}
